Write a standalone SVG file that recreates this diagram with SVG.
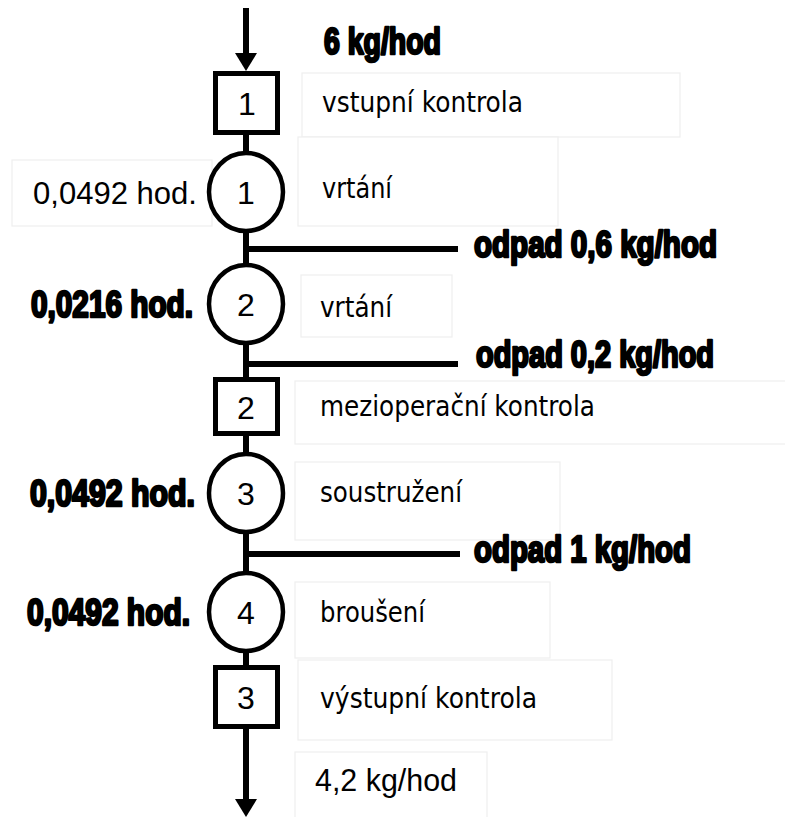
<svg xmlns="http://www.w3.org/2000/svg" width="785" height="817" viewBox="0 0 785 817">
<style>
.bg{fill:#ffffff;stroke:#efefef;stroke-width:1.2}
.ln{stroke:#000;stroke-width:6;fill:none}
.box{fill:#fff;stroke:#000;stroke-width:5}
.circ{fill:#fff;stroke:#000;stroke-width:4.5}
.num{font-family:"Liberation Sans",Arial,sans-serif;font-size:32px;fill:#000;text-anchor:middle}
.desc{font-family:"DejaVu Sans",Verdana,sans-serif;font-size:29px;fill:#000}
.reg{font-family:"Liberation Sans",Arial,sans-serif;font-size:31px;fill:#000}
.bold{font-family:"Liberation Sans",Arial,sans-serif;font-weight:bold;font-size:37px;fill:#000;stroke:#000;stroke-width:2.6;stroke-linejoin:round}
</style>
<defs>
<marker id="arr" viewBox="0 0 18 22" refX="9" refY="11" markerWidth="18" markerHeight="22" markerUnits="userSpaceOnUse" orient="auto">
<path d="M0,0 L18,11 L0,22 Z" fill="#000"/>
</marker>
</defs>
<rect width="785" height="817" fill="#fff"/>
<g id="label-backgrounds">
<rect class="bg" x="302" y="73" width="378" height="64"/>
<rect class="bg" x="298" y="137" width="260" height="89"/>
<rect class="bg" x="12" y="160" width="200" height="66"/>
<rect class="bg" x="301" y="275" width="151" height="62"/>
<rect class="bg" x="295" y="381" width="495" height="63"/>
<rect class="bg" x="295" y="462" width="265" height="78"/>
<rect class="bg" x="295" y="582" width="255" height="76"/>
<rect class="bg" x="298" y="660" width="314" height="80"/>
<rect class="bg" x="295" y="752" width="192" height="80"/>
</g>
<g id="connectors">
<line class="ln" x1="246" y1="8" x2="246" y2="62" marker-end="url(#arr)"/>
<line class="ln" x1="246" y1="134" x2="246" y2="154"/>
<line class="ln" x1="246" y1="230" x2="246" y2="266"/>
<line class="ln" x1="246" y1="342" x2="246" y2="378"/>
<line class="ln" x1="246" y1="435" x2="246" y2="455"/>
<line class="ln" x1="246" y1="531" x2="246" y2="574"/>
<line class="ln" x1="246" y1="650" x2="246" y2="666"/>
<line class="ln" x1="246" y1="728" x2="246" y2="808" marker-end="url(#arr)"/>
<line class="ln" x1="246" y1="249" x2="458" y2="249"/>
<line class="ln" x1="246" y1="364" x2="458" y2="364"/>
<line class="ln" x1="246" y1="554" x2="460" y2="554"/>
</g>
<g id="flow-labels">
<text class="bold" x="324" y="54" textLength="117" lengthAdjust="spacingAndGlyphs">6 kg/hod</text>
<text class="bold" x="474" y="257" textLength="243" lengthAdjust="spacingAndGlyphs">odpad 0,6 kg/hod</text>
<text class="bold" x="476" y="367" textLength="238" lengthAdjust="spacingAndGlyphs">odpad 0,2 kg/hod</text>
<text class="bold" x="474" y="562" textLength="217" lengthAdjust="spacingAndGlyphs">odpad 1 kg/hod</text>
<text class="reg" x="315" y="791" textLength="142" lengthAdjust="spacingAndGlyphs">4,2 kg/hod</text>
</g>
<g id="control1">
<rect class="box" x="215.5" y="73.5" width="62" height="59"/>
<text class="num" x="247" y="115">1</text>
<text class="desc" x="322" y="112" textLength="201" lengthAdjust="spacingAndGlyphs">vstupní kontrola</text>
</g>
<g id="operation1">
<ellipse class="circ" cx="246" cy="192" rx="37" ry="39"/>
<text class="num" x="246" y="204">1</text>
<text class="desc" x="322" y="198" textLength="70" lengthAdjust="spacingAndGlyphs">vrtání</text>
<text class="reg" x="33" y="204" textLength="164" lengthAdjust="spacingAndGlyphs">0,0492 hod.</text>
</g>
<g id="operation2">
<ellipse class="circ" cx="246" cy="304" rx="37" ry="39"/>
<text class="num" x="246" y="316">2</text>
<text class="desc" x="320" y="317" textLength="72" lengthAdjust="spacingAndGlyphs">vrtání</text>
<text class="bold" x="31" y="317" textLength="162" lengthAdjust="spacingAndGlyphs">0,0216 hod.</text>
</g>
<g id="control2">
<rect class="box" x="215.5" y="379.5" width="62" height="54"/>
<text class="num" x="246" y="419">2</text>
<text class="desc" x="320" y="416" textLength="275" lengthAdjust="spacingAndGlyphs">mezioperační kontrola</text>
</g>
<g id="operation3">
<ellipse class="circ" cx="246" cy="493" rx="37" ry="39"/>
<text class="num" x="246" y="505">3</text>
<text class="desc" x="320" y="502" textLength="142" lengthAdjust="spacingAndGlyphs">soustružení</text>
<text class="bold" x="30" y="506" textLength="165" lengthAdjust="spacingAndGlyphs">0,0492 hod.</text>
</g>
<g id="operation4">
<ellipse class="circ" cx="246" cy="612" rx="37" ry="39"/>
<text class="num" x="246" y="624">4</text>
<text class="desc" x="320" y="622" textLength="105" lengthAdjust="spacingAndGlyphs">broušení</text>
<text class="bold" x="27" y="625" textLength="163" lengthAdjust="spacingAndGlyphs">0,0492 hod.</text>
</g>
<g id="control3">
<rect class="box" x="215.5" y="667.5" width="62" height="59"/>
<text class="num" x="246" y="709">3</text>
<text class="desc" x="320" y="708" textLength="217" lengthAdjust="spacingAndGlyphs">výstupní kontrola</text>
</g>
</svg>
